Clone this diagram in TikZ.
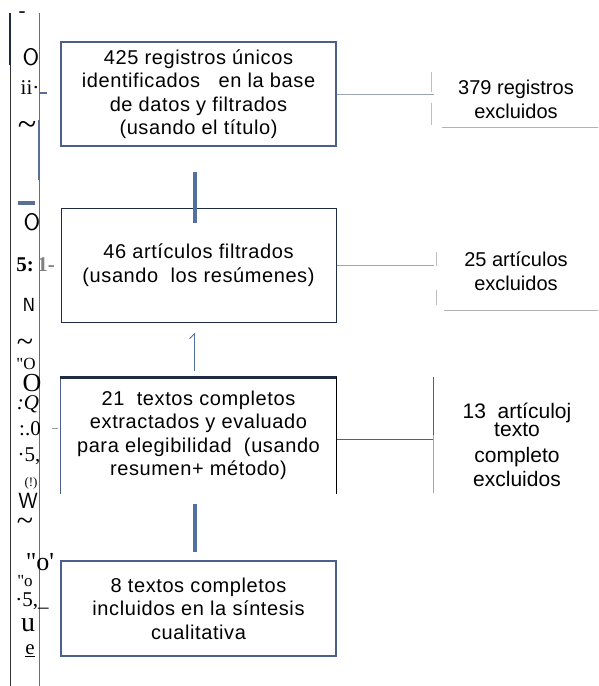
\documentclass[tikz,border=0pt]{standalone}
\usepackage{fontspec}
\setmainfont{Liberation Sans}
\newfontfamily\flowfont{Liberation Sans}[LetterSpace=3]
\newfontfamily\scanfont{Liberation Serif}
\usetikzlibrary{arrows.meta}
\definecolor{boxblue}{HTML}{4A5F8A}
\definecolor{boxnavy}{HTML}{1F2A44}
\definecolor{linkblue}{HTML}{5270A0}
\definecolor{sidegrey}{HTML}{9AA3B5}
\definecolor{ruleblue}{HTML}{5A6F98}
\begin{document}
\begin{tikzpicture}[x=1pt,y=1pt]
\tikzstyle{bb}= [rectangle,draw=boxblue,line width=1.5pt,minimum width=275pt,inner sep=0pt,align=center,font=\flowfont\fontsize{20}{23.5}\selectfont]
\tikzstyle{ex}= [rectangle,minimum width=164pt,inner sep=0pt,align=center,font=\fontsize{20}{24}\selectfont]
\tikzstyle{dep}= [line width=3.5pt,draw=linkblue]
\tikzstyle{side}= [line width=1pt,draw=sidegrey]
\tikzstyle{tick}= [line width=0.8pt,draw=black!25]
\tikzstyle{underl}= [line width=1.3pt,draw=black!30]
\tikzstyle{scan}= [font=\scanfont\fontsize{21}{21}\selectfont,inner sep=0pt]

\useasboundingbox (0,0) rectangle (598,-686);

\path
	(198.5, -94) node[bb,minimum height=104pt] (ident) {425 registros únicos\\identificados \ \ en la base\\de datos y filtrados\\(usando el título)}
	(198.5,-265) node[bb,draw=boxnavy,line width=1pt,minimum height=114pt] (scr) {46 artículos filtrados\\(usando \ los resúmenes)}
	(198.5,-435.5) node[bb,draw=none,minimum height=115pt] (elig) {21 \ textos completos\\extractados y evaluado\\para elegibilidad \ (usando\\resumen+ método)}
	(198.5,-608.5) node[bb,line width=2pt,minimum height=95pt] (incl) {8 textos completos\\incluidos en la síntesis\\cualitativa}
	(516, -99) node[ex,minimum height=56pt] (excl1) {379 registros\\excluidos}
	(516,-271) node[ex,minimum height=78pt] (excl2) {25 artículos\\excluidos}
	(516,-435) node[ex,minimum height=116pt] (frame3) {}
	(517,-445) node[ex,font=\fontsize{21}{23.5}\selectfont] (excl3) {13 \ artículoj\\[-6pt]texto\\[3pt]completo\\excluidos}
;
\draw[line width=1pt,draw=boxblue] (elig.south west) -- (elig.north west);
\draw[line width=3pt,draw=boxnavy] (elig.north west) -- (elig.north east);
\draw[line width=1pt,draw=black] (elig.north east) -- (elig.south east);

\draw[dep] ([xshift=-3.5pt,yshift=-25pt]ident.south) -- ([xshift=-3.5pt,yshift=-15pt]scr.north);
\draw[line width=1pt,draw=linkblue,{Straight Barb[harpoon,length=5pt]}-] ([xshift=-4pt,yshift=-10pt]scr.south) -- ([xshift=-4pt,yshift=6pt]elig.north);
\draw[dep] ([xshift=-3.5pt,yshift=-10pt]elig.south) -- ([xshift=-3.5pt,yshift=8pt]incl.north);

\draw[side] (ident.east) -- (ident.east -| excl1.west);
\draw[side] (scr.east) -- (scr.east -| excl2.west);
\draw[line width=1pt,draw=boxblue] ([yshift=-3.5pt]elig.east) -- ([yshift=-3.5pt]elig.east -| frame3.west);
\draw[line width=1pt,draw=boxblue] (frame3.north west) -- (frame3.west);
\draw[line width=1pt,draw=black!35] (frame3.west) -- (frame3.south west);

\draw[underl] ([xshift=8pt]excl1.south west) -- (excl1.south east);
\draw[underl] ([xshift=10pt]excl2.south west) -- (excl2.south east);
\draw[tick] ([xshift=-2pt,yshift=-1pt]excl1.north west) -- +(0,-20);
\draw[tick] ([xshift=-2pt,yshift=2pt]excl1.south west) -- +(0,22);
\draw[tick] ([xshift=3pt,yshift=-20pt]excl2.north west) -- +(0,-14);
\draw[tick] ([xshift=3pt,yshift=5pt]excl2.south west) -- +(0,15);

\draw[line width=1pt,draw=black!80] (10,-13) -- (10,-686);
\draw[line width=2pt,draw=boxnavy] (10,-13) -- (10,-65);
\draw[line width=1pt,draw=ruleblue] (39,-13) -- (39,-686);
\draw[line width=2pt,draw=ruleblue] (39,-120) -- (39,-180);
\draw[line width=4pt,draw=ruleblue] (18,-203) -- (35,-203);
\draw[line width=1.5pt,draw=ruleblue] (39,-93) -- (47,-93);
\draw[line width=0.8pt,draw=black!40] (52,-428) -- (58,-428);

\foreach \gx/\gy/\gt [count=\i] in {
	22/-15/-, 31/-57/\sffamily\fontsize{24}{24}\selectfont O, 30/-88/ii·, 27/-128/\fontsize{34}{34}\selectfont\textasciitilde,
	32/-222/\sffamily\fontsize{24}{24}\selectfont O, 25/-265/\bfseries 5:, 46/-265/\bfseries\color{black!50}1-,
	29/-305/\sffamily\fontsize{19}{19}\selectfont N, 25/-345/\fontsize{30}{30}\selectfont\textasciitilde, 26/-364/\fontsize{17}{17}\selectfont "O, 32/-383/\fontsize{26}{26}\selectfont O,
	28/-404/\itshape :Q, 30/-429/{:.0}, 29/-456/{·5,}, 31/-483/\fontsize{13}{13}\selectfont (!),
	28/-501/\sffamily\fontsize{22}{22}\selectfont W, 25/-524/\fontsize{30}{30}\selectfont\textasciitilde, 40/-562/\fontsize{26}{26}\selectfont "o', 25/-581/\fontsize{17}{17}\selectfont "o,
	32/-601/{·5,\_}, 28/-625/\fontsize{28}{28}\selectfont u, 30/-651/\underline{e}}
	\node[scan] (scan\i) at (\gx,\gy) {\gt};
\end{tikzpicture}
\end{document}
